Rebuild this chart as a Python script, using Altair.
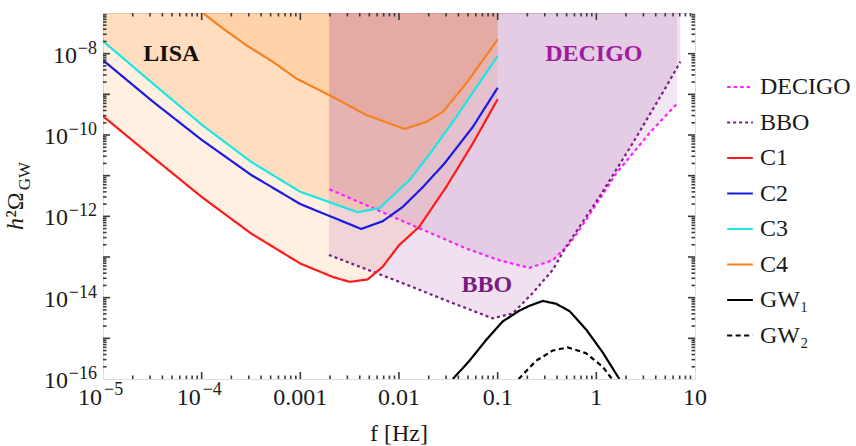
import altair as alt
import pandas as pd

# ---------------- data ----------------
c1_f = [1e-5, 3.16e-5, 1e-4, 3.16e-4, 1e-3, 2.15e-3, 3.16e-3, 4.8e-3, 6.85e-3, 1.0e-2, 1.6e-2, 3.0e-2, 5.6e-2, 0.1]
c1_omega = [2.9e-10, 2.9e-11, 3.0e-12, 3.8e-13, 6.9e-14, 3.2e-14, 2.45e-14, 2.8e-14, 5.8e-14, 1.95e-13, 5.5e-13, 5.2e-12, 6.2e-11, 7.6e-10]

c2_f = [1e-5, 3.16e-5, 1e-4, 3.16e-4, 1e-3, 2.12e-3, 4.14e-3, 6.85e-3, 1.09e-2, 1.74e-2, 2.89e-2, 5.6e-2, 0.1]
c2_omega = [6.9e-9, 6.8e-10, 7.6e-11, 1.05e-11, 2.0e-12, 9.5e-13, 4.9e-13, 7.6e-13, 1.7e-12, 5.2e-12, 2.0e-11, 1.58e-10, 1.45e-9]

c3_f = [1e-5, 3.16e-5, 1e-4, 3.16e-4, 1e-3, 2.12e-3, 3.83e-3, 6.35e-3, 1.28e-2, 2.2e-2, 3.79e-2, 0.1]
c3_omega = [2.04e-8, 1.9e-9, 1.8e-10, 2.2e-11, 4.0e-12, 2.1e-12, 1.26e-12, 1.6e-12, 7.8e-12, 4.3e-11, 2.75e-10, 8.7e-9]

c4_f = [1.03e-4, 1.64e-4, 2.83e-4, 5.27e-4, 9.1e-4, 1.98e-3, 4.66e-3, 1.14e-2, 1.89e-2, 2.78e-2, 4.8e-2, 0.1]
c4_omega = [1e-7, 4.17e-8, 1.62e-8, 6.3e-9, 2.45e-9, 9.5e-10, 3.1e-10, 1.41e-10, 2.1e-10, 3.7e-10, 1.86e-9, 2.24e-8]

decigo_f = [1.98e-3, 1.01e-2, 4.8e-2, 0.104, 0.21, 0.361, 0.533, 0.787, 1.585, 3.44, 6.58]
decigo_omega = [4.6e-12, 8.3e-13, 1.62e-13, 8.3e-14, 5.4e-14, 8.3e-14, 2.1e-13, 8.1e-13, 1.12e-11, 1.1e-10, 5.9e-10]

bbo_f = [1.95e-3, 1.01e-2, 3.25e-2, 8.9e-2, 0.142, 0.226, 0.361, 0.494, 1.074, 2.33, 5.08, 7.1]
bbo_omega = [1.12e-13, 2.45e-14, 7.9e-15, 3.1e-15, 4.1e-15, 1.29e-14, 4.8e-14, 1.78e-13, 3.0e-12, 6.2e-11, 1.51e-9, 6.3e-9]

gw1_f = [0.0351, 0.0517, 0.0764, 0.1125, 0.166, 0.21, 0.286, 0.39, 0.533, 0.787, 1.16, 1.71]
gw1_omega = [1e-16, 2.8e-16, 9.1e-16, 2.6e-15, 4.8e-15, 6.3e-15, 8.3e-15, 7.1e-15, 4.7e-15, 1.66e-15, 4.5e-16, 1e-16]

gw2_f = [0.163, 0.245, 0.361, 0.513, 0.787, 1.16, 1.44]
gw2_omega = [1e-16, 2.8e-16, 5.0e-16, 6.0e-16, 4.3e-16, 2.0e-16, 1e-16]

series_names = ["DECIGO", "BBO", "C1", "C2", "C3", "C4", "GW\u2081", "GW\u2082"]
series_colors = ["#FF20FF", "#7A1F82", "#FF1A1A", "#1A1AE6", "#1AE6E6", "#F5821F", "#000000", "#000000"]
series_dash = [[3.5, 3], [3, 3], [1, 0], [1, 0], [1, 0], [1, 0], [1, 0], [5, 3.5]]

region_labels = ["LISA", "DECIGO", "BBO"]
region_f = [4.93e-5, 0.944, 0.0778]
region_omega = [1e-8, 1e-8, 2.0e-14]
region_colors = ["#111111", "#A01AA0", "#7A1A82"]

# tick labels
x_plain_ticks = [1e-3, 1e-2, 0.1, 1, 10]
x_plain_labels = ["0.001", "0.01", "0.1", "1", "10"]
x_pow_ticks = [1e-5, 1e-4]
x_pow_exps = ["\u22125", "\u22124"]
y_pow_ticks = [1e-16, 1e-14, 1e-12, 1e-10, 1e-8]
y_pow_exps = ["\u221216", "\u221214", "\u221212", "\u221210", "\u22128"]

# ---------------- layout ----------------
W, H = 592, 366
FONT = "Liberation Serif"
ORANGE = "#FF8C1E"
PURPLE = "#9B379B"
TXT = "#1a1a1a"
Y_LO, Y_HI = 1e-16, 1e-7
X_LO, X_HI = 1e-5, 10.0
PX_PER_DEC_X = W / 6.0
PX_PER_DEC_Y = H / 9.0

def frame(f, o, name=None):
    d = pd.DataFrame({"f": f, "omega": o})
    d["top"] = Y_HI
    if name is not None:
        d["series"] = name
    return d

curves = [
    ("DECIGO", decigo_f, decigo_omega),
    ("BBO", bbo_f, bbo_omega),
    ("C1", c1_f, c1_omega),
    ("C2", c2_f, c2_omega),
    ("C3", c3_f, c3_omega),
    ("C4", c4_f, c4_omega),
    ("GW\u2081", gw1_f, gw1_omega),
    ("GW\u2082", gw2_f, gw2_omega),
]
lines_df = pd.concat([frame(f, o, n) for n, f, o in curves], ignore_index=True)

xscale = alt.Scale(type="log", domain=[X_LO, X_HI], nice=False)
yscale = alt.Scale(type="log", domain=[Y_LO, Y_HI], nice=False)

def XF(field):
    return alt.X(field, scale=xscale, axis=None)

def YF(field):
    return alt.Y(field, scale=yscale, axis=None)

X = XF("f:Q")
Y = YF("omega:Q")

def fill(f, o, color, opacity):
    return alt.Chart(frame(f, o)).mark_area(color=color, opacity=opacity, clip=True).encode(
        x=X, y=Y, y2="top:Q"
    )

fills = [
    fill(c1_f, c1_omega, ORANGE, 0.13),
    fill(c3_f, c3_omega, ORANGE, 0.18),
    fill(c4_f, c4_omega, ORANGE, 0.13),
    fill(bbo_f, bbo_omega, PURPLE, 0.15),
    fill(decigo_f, decigo_omega, PURPLE, 0.12),
]

legend = alt.Legend(
    title=None, orient="none", legendX=623, legendY=60,
    symbolType="stroke", symbolSize=660, symbolStrokeWidth=2,
    labelFont=FONT, labelFontSize=24, labelColor=TXT,
    rowPadding=9.5, labelOffset=6, padding=0, labelLimit=300,
)

lines = alt.Chart(lines_df).mark_line(strokeWidth=2.2, clip=True).encode(
    x=X, y=Y,
    color=alt.Color("series:N", scale=alt.Scale(domain=series_names, range=series_colors), legend=legend),
    strokeDash=alt.StrokeDash("series:N", scale=alt.Scale(domain=series_names, range=series_dash), legend=legend),
    order=alt.Order("f:Q"),
)

regions_df = pd.DataFrame({"label": region_labels, "f": region_f, "omega": region_omega, "color": region_colors})
regions = alt.Chart(regions_df).mark_text(font=FONT, fontSize=24, fontWeight="bold", baseline="middle").encode(
    x=X, y=Y, text="label:N", color=alt.Color("color:N", scale=None)
)

# ---------------- inward frame ticks (short two-point segments) ----------------
x_major = [10.0 ** k for k in range(-4, 1)]
x_minor = [m * 10.0 ** k for k in range(-5, 1) for m in range(2, 10)]
y_major = [10.0 ** k for k in range(-15, -7)]
y_minor = [m * 10.0 ** k for k in range(-16, -7) for m in range(2, 10)]
TICK = "#3a3a3a"

tick_rows = []
def add_x_ticks(vals, ln):
    k = 10.0 ** (ln / PX_PER_DEC_Y)
    for v in vals:
        for side, (a, b) in (("b", (Y_LO, Y_LO * k)), ("t", (Y_HI, Y_HI / k))):
            tid = f"x{side}{v:.3e}"
            tick_rows.append({"tid": tid, "f": v, "omega": a})
            tick_rows.append({"tid": tid, "f": v, "omega": b})

def add_y_ticks(vals, ln):
    k = 10.0 ** (ln / PX_PER_DEC_X)
    for v in vals:
        for side, (a, b) in (("l", (X_LO, X_LO * k)), ("r", (X_HI, X_HI / k))):
            tid = f"y{side}{v:.3e}"
            tick_rows.append({"tid": tid, "f": a, "omega": v})
            tick_rows.append({"tid": tid, "f": b, "omega": v})

add_x_ticks(x_major, 7)
add_x_ticks(x_minor, 3.5)
add_y_ticks(y_major, 7)
add_y_ticks(y_minor, 3.5)
ticks_df = pd.DataFrame(tick_rows)

ticks = alt.Chart(ticks_df).mark_line(strokeWidth=1.6).encode(
    x=X, y=Y, detail="tid:N", color=alt.value(TICK)
)

# ---------------- tick labels ----------------
xp = pd.DataFrame({"f": x_plain_ticks, "lab": x_plain_labels, "lo": Y_LO})
xe = pd.DataFrame({"f": x_pow_ticks, "exp": x_pow_exps, "lo": Y_LO})
ye = pd.DataFrame({"omega": y_pow_ticks, "exp": y_pow_exps, "lo": X_LO})
ye["digits"] = ye["exp"].str.len()

def txt(**kw):
    base = dict(font=FONT, color=TXT, baseline="alphabetic")
    base.update(kw)
    return base

tick_labels = [
    alt.Chart(xp).mark_text(**txt(fontSize=24, align="center", dy=26)).encode(x=X, y=YF("lo:Q"), text="lab:N"),
    alt.Chart(xe).mark_text(**txt(fontSize=24, align="right", dx=-1, dy=26)).encode(x=X, y=YF("lo:Q"), text=alt.value("10")),
    alt.Chart(xe).mark_text(**txt(fontSize=18, align="left", dx=1, dy=16)).encode(x=X, y=YF("lo:Q"), text="exp:N"),
    alt.Chart(ye).mark_text(**txt(fontSize=18, align="right", dx=-6, dy=0)).encode(x=XF("lo:Q"), y=Y, text="exp:N"),
    alt.Chart(ye).transform_filter("datum.digits == 3").mark_text(**txt(fontSize=24, align="right", dx=-35, dy=9)).encode(
        x=XF("lo:Q"), y=Y, text=alt.value("10")),
    alt.Chart(ye).transform_filter("datum.digits == 2").mark_text(**txt(fontSize=24, align="right", dx=-26, dy=9)).encode(
        x=XF("lo:Q"), y=Y, text=alt.value("10")),
]

# ---------------- axis titles ----------------
title_df = pd.DataFrame({"t": [0]})
def title_text(text, x, y, size, angle=0, style="normal"):
    return alt.Chart(title_df).mark_text(
        text=text, font=FONT, fontSize=size, angle=angle, fontStyle=style,
        align="center", baseline="alphabetic", color=TXT,
    ).encode(x=alt.value(x), y=alt.value(y))

titles = [
    title_text("f [Hz]", W / 2, H + 62, 24),
    title_text("h", -80, 211, 24, angle=270, style="italic"),
    title_text("\u00b2\u03a9", -80, 192, 24, angle=270),
    title_text("GW", -73, 163, 17, angle=270),
]

chart = alt.layer(*fills, lines, regions, *tick_labels, *titles, ticks).properties(
    width=W, height=H,
    padding={"left": 103, "top": 13, "right": 856 - 103 - W, "bottom": 446 - 13 - H},
    autosize=alt.AutoSizeParams(type="none"),
).configure_view(stroke="#666666", strokeWidth=1).configure(font=FONT)

chart.save("out.html", embed_options={"renderer": "svg", "actions": False})
